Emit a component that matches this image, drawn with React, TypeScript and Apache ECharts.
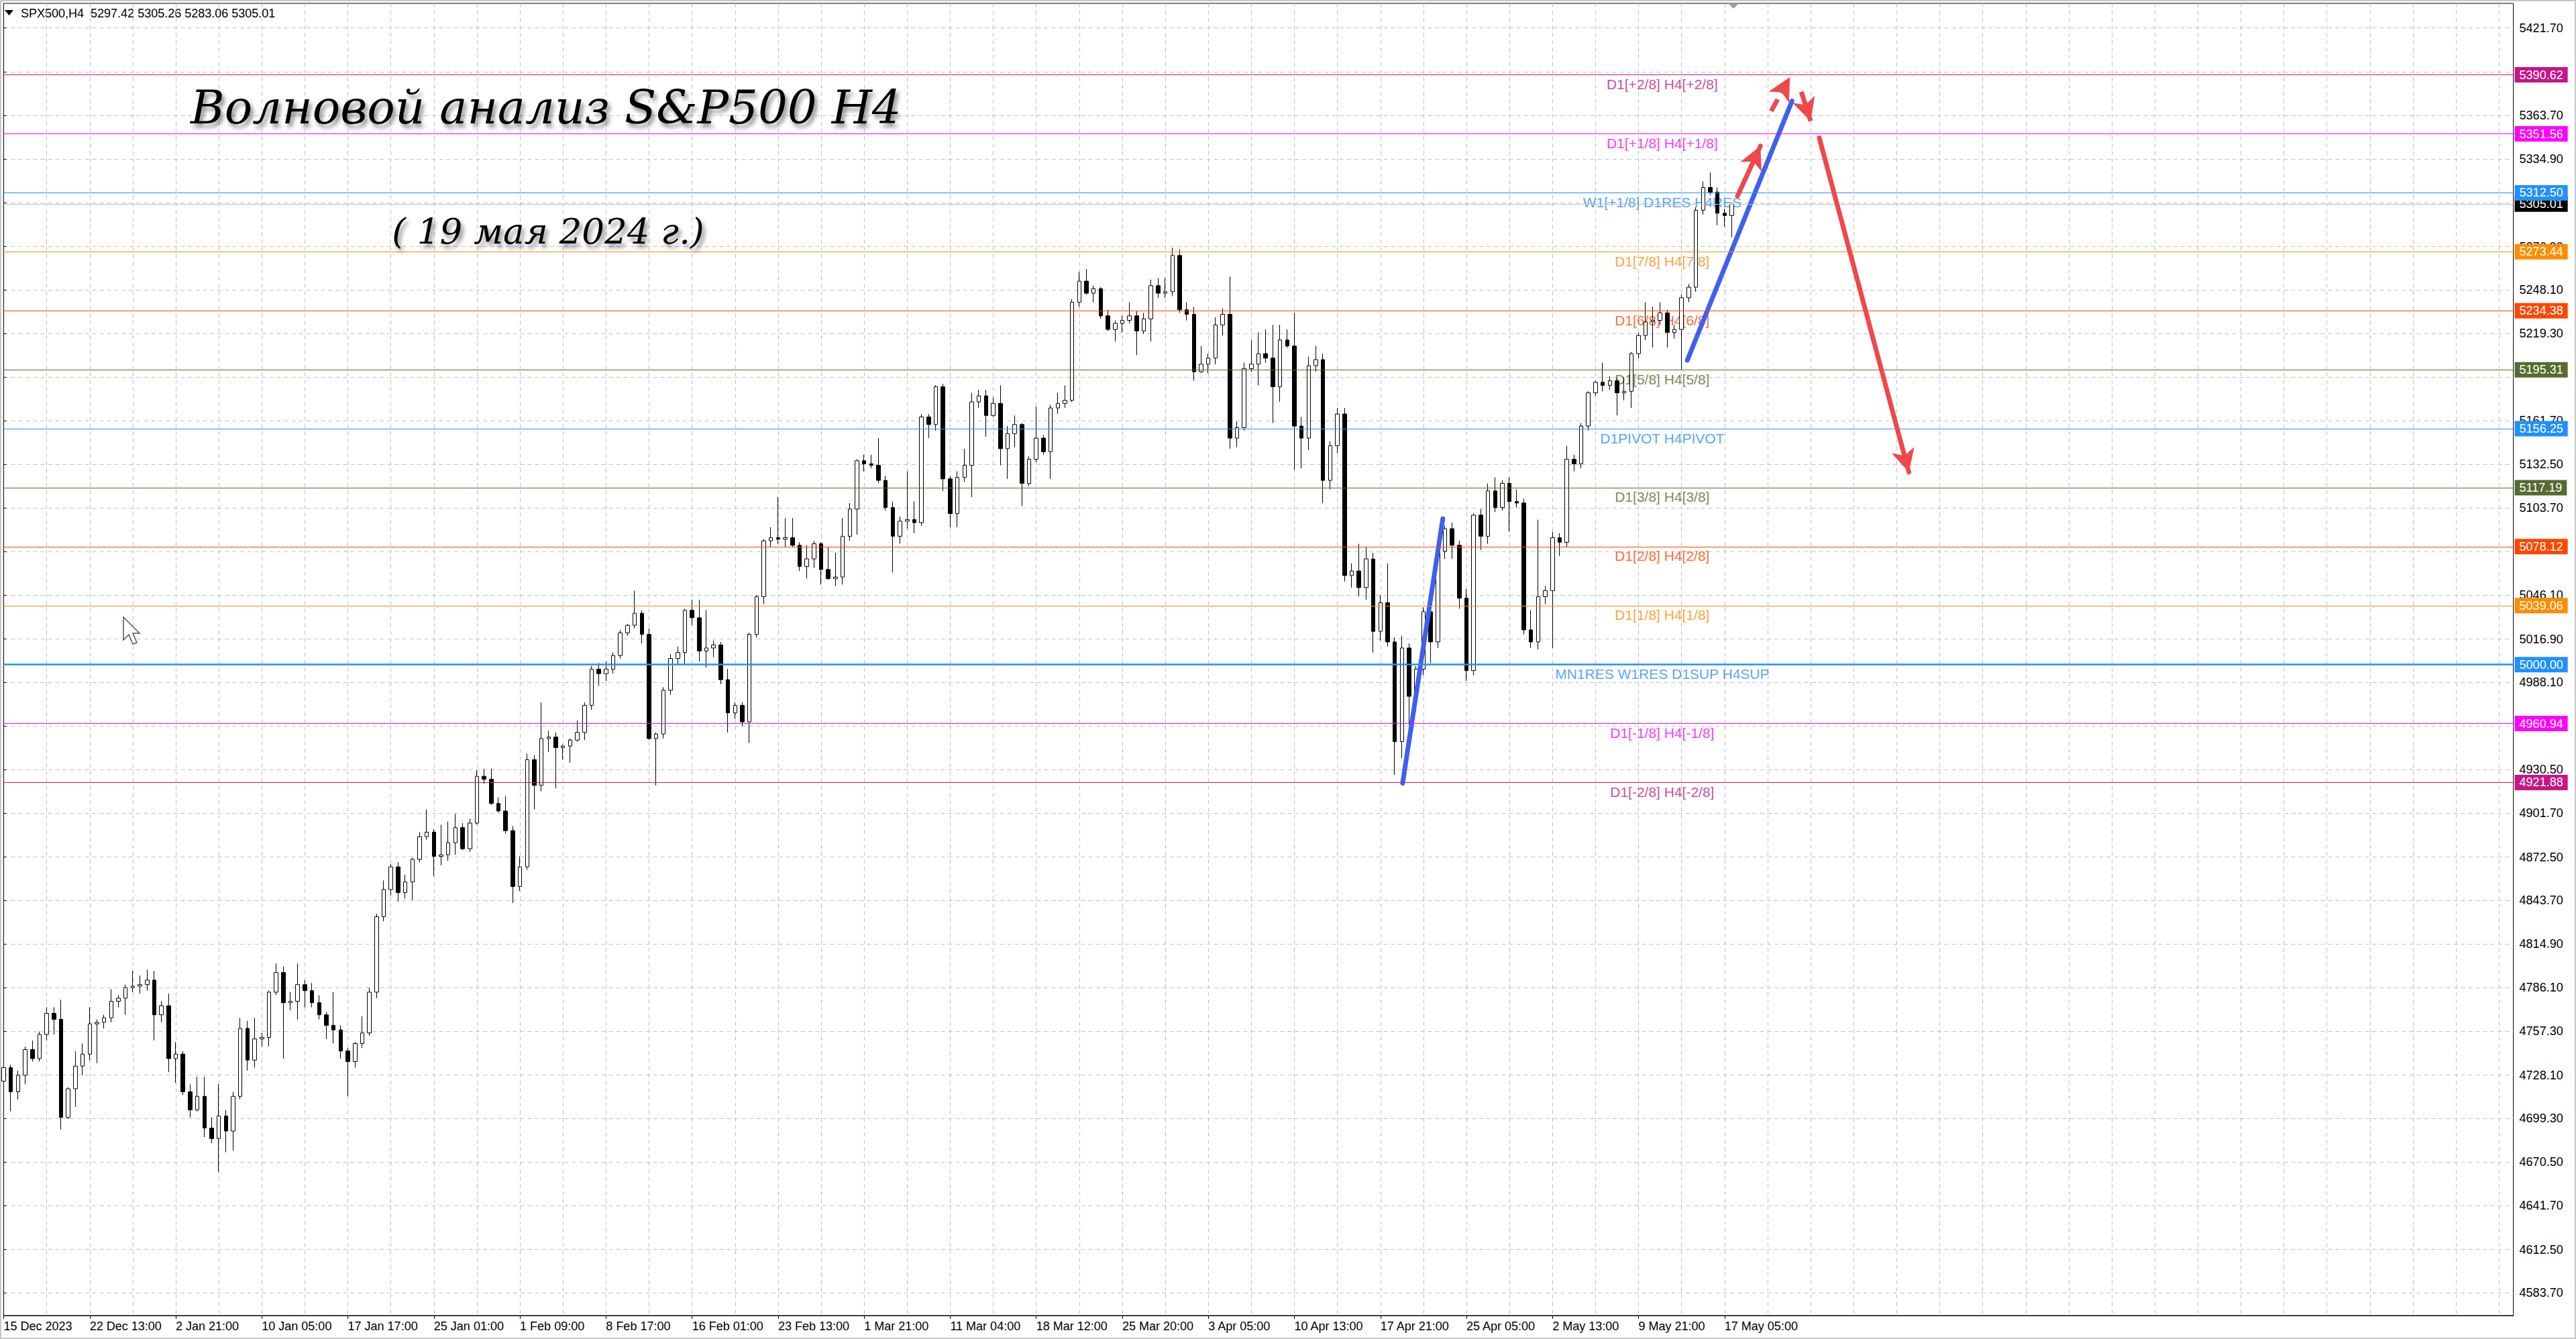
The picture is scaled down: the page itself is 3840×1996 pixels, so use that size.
import React, { useEffect, useRef } from 'react';
import * as echarts from 'echarts';

// time axis: one label every 12 slots, grid runs on past the last bar
const xLabels = ['15 Dec 2023', '22 Dec 13:00', '2 Jan 21:00', '10 Jan 05:00', '17 Jan 17:00', '25 Jan 01:00', '1 Feb 09:00',
  '8 Feb 17:00', '16 Feb 01:00', '23 Feb 13:00', '1 Mar 21:00', '11 Mar 04:00', '18 Mar 12:00', '25 Mar 20:00',
  '3 Apr 05:00', '10 Apr 13:00', '17 Apr 21:00', '25 Apr 05:00', '2 May 13:00', '9 May 21:00', '17 May 05:00'];
const barsPerLabel = 12;
const totalSlots = 351;

// price grid (all ticks) and the tick labels that are not covered by a level box
const yTicks = [5421.7, 5392.5, 5363.7, 5334.9, 5305.7, 5276.9, 5248.1, 5219.3, 5190.5, 5161.7, 5132.5, 5103.7,
  5074.9, 5046.1, 5016.9, 4988.1, 4959.3, 4930.5, 4901.7, 4872.5, 4843.7, 4814.9, 4786.1, 4757.3, 4728.1,
  4699.3, 4670.5, 4641.7, 4612.5, 4583.7];
const yTickLabels = [5421.7, 5363.7, 5334.9, 5276.9, 5248.1, 5219.3, 5161.7, 5132.5, 5103.7,
  5046.1, 5016.9, 4988.1, 4930.5, 4901.7, 4872.5, 4843.7, 4814.9, 4786.1, 4757.3, 4728.1,
  4699.3, 4670.5, 4641.7, 4612.5, 4583.7];

const open = [
  4724, 4733, 4717, 4728, 4745, 4739, 4755, 4769, 4765, 4700,
  4719, 4734, 4742, 4762, 4763, 4766, 4777, 4779, 4786, 4787,
  4788, 4791, 4768, 4774, 4739, 4742, 4717, 4705, 4714, 4693,
  4686, 4701, 4691, 4714, 4759, 4738, 4752, 4753, 4783, 4796,
  4776, 4777, 4788, 4784, 4776, 4768, 4761, 4758, 4744, 4737,
  4749, 4756, 4783, 4833, 4851, 4866, 4849, 4856, 4871, 4886,
  4889, 4873, 4874, 4882, 4892, 4878, 4895, 4926, 4924, 4908,
  4903, 4890, 4853, 4866, 4937, 4920, 4951, 4952, 4945, 4946,
  4950, 4955, 4973, 4997, 4994, 4997, 5006, 5021, 5026, 5034,
  5020, 4951, 4954, 4983, 5004, 5008, 5036, 5031, 5009, 5011,
  5013, 4990, 4968, 4973, 4962, 5020, 5045, 5082, 5084, 5083,
  5084, 5079, 5065, 5070, 5080, 5063, 5057, 5058, 5085, 5103,
  5135, 5133, 5132, 5122, 5104, 5085, 5095, 5096, 5094, 5164,
  5159, 5184, 5123, 5100, 5124, 5132, 5174, 5178, 5165, 5173,
  5143, 5153, 5159, 5120, 5136, 5150, 5141, 5170, 5173, 5175,
  5240, 5254, 5246, 5249, 5231, 5222, 5226, 5228, 5231, 5221,
  5229, 5251, 5246, 5247, 5271, 5235, 5232, 5194, 5199, 5203,
  5225, 5232, 5150, 5157, 5196, 5199, 5206, 5203, 5184, 5215,
  5211, 5158, 5150, 5198, 5202, 5122, 5145, 5166, 5059, 5062,
  5051, 5070, 5022, 5041, 5015, 4949, 5011, 4979, 4997, 5035,
  5015, 5075, 5090, 5079, 5044, 4996, 5099, 5085, 5115, 5104,
  5120, 5108, 5107, 5023, 5015, 5045, 5049, 5084, 5081, 5136,
  5133, 5158, 5180, 5187, 5185, 5188, 5180, 5181, 5206, 5218,
  5227, 5228, 5233, 5220, 5222, 5243, 5250, 5301, 5316, 5313, 5299, 5297.42];
const close = [
  4733, 4717, 4728, 4745, 4739, 4755, 4769, 4765, 4700, 4719,
  4734, 4742, 4762, 4763, 4766, 4777, 4779, 4786, 4787, 4788,
  4791, 4768, 4774, 4739, 4742, 4717, 4705, 4714, 4693, 4686,
  4701, 4691, 4714, 4759, 4738, 4752, 4753, 4783, 4796, 4776,
  4777, 4788, 4784, 4776, 4768, 4761, 4758, 4744, 4737, 4749,
  4756, 4783, 4833, 4851, 4866, 4849, 4856, 4871, 4886, 4889,
  4873, 4874, 4882, 4892, 4878, 4895, 4926, 4924, 4908, 4903,
  4890, 4853, 4866, 4937, 4920, 4951, 4952, 4945, 4946, 4950,
  4955, 4973, 4997, 4994, 4997, 5006, 5021, 5026, 5034, 5020,
  4951, 4954, 4983, 5004, 5008, 5036, 5031, 5009, 5011, 5013,
  4990, 4968, 4973, 4962, 5020, 5045, 5082, 5084, 5083, 5084,
  5079, 5065, 5070, 5080, 5063, 5057, 5058, 5085, 5103, 5135,
  5133, 5132, 5122, 5104, 5085, 5095, 5096, 5094, 5164, 5159,
  5184, 5123, 5100, 5124, 5132, 5174, 5178, 5165, 5173, 5143,
  5153, 5159, 5120, 5136, 5150, 5141, 5170, 5173, 5175, 5240,
  5254, 5246, 5249, 5231, 5222, 5226, 5228, 5231, 5221, 5229,
  5251, 5246, 5247, 5271, 5235, 5232, 5194, 5199, 5203, 5225,
  5232, 5150, 5157, 5196, 5199, 5206, 5203, 5184, 5215, 5211,
  5158, 5150, 5198, 5202, 5122, 5145, 5166, 5059, 5062, 5051,
  5070, 5022, 5041, 5015, 4949, 5011, 4979, 4997, 5035, 5015,
  5075, 5090, 5079, 5044, 4996, 5099, 5085, 5115, 5104, 5120,
  5108, 5107, 5023, 5015, 5045, 5049, 5084, 5081, 5136, 5133,
  5158, 5180, 5187, 5185, 5188, 5180, 5181, 5206, 5218, 5227,
  5228, 5233, 5220, 5222, 5243, 5250, 5301, 5316, 5313, 5299, 5297.42, 5305.01];
const low = [
  4721, 4704, 4712, 4722, 4737, 4737, 4751, 4755, 4692, 4699,
  4707, 4728, 4738, 4736, 4759, 4763, 4773, 4768, 4783, 4782,
  4784, 4751, 4763, 4730, 4723, 4715, 4700, 4704, 4687, 4683,
  4664, 4677, 4678, 4712, 4731, 4733, 4747, 4747, 4781, 4739,
  4771, 4765, 4773, 4773, 4765, 4752, 4749, 4739, 4714, 4733,
  4746, 4754, 4779, 4830, 4847, 4843, 4845, 4844, 4869, 4884,
  4860, 4867, 4870, 4874, 4877, 4876, 4894, 4921, 4907, 4902,
  4888, 4842, 4850, 4864, 4904, 4916, 4942, 4918, 4937, 4935,
  4949, 4950, 4970, 4986, 4989, 4994, 5004, 5019, 5024, 5014,
  4950, 4920, 4951, 4980, 5000, 5000, 5026, 5002, 4998, 5005,
  4987, 4955, 4964, 4959, 4948, 5018, 5040, 5078, 5080, 5078,
  5078, 5062, 5057, 5064, 5053, 5056, 5052, 5053, 5082, 5086,
  5128, 5130, 5120, 5102, 5061, 5080, 5090, 5087, 5092, 5150,
  5155, 5115, 5091, 5091, 5121, 5111, 5170, 5151, 5164, 5132,
  5123, 5144, 5105, 5118, 5134, 5139, 5123, 5166, 5170, 5174,
  5237, 5245, 5240, 5229, 5221, 5214, 5220, 5226, 5205, 5219,
  5214, 5243, 5243, 5244, 5233, 5228, 5188, 5193, 5193, 5199,
  5218, 5143, 5144, 5155, 5194, 5185, 5200, 5160, 5174, 5210,
  5129, 5130, 5142, 5194, 5107, 5116, 5140, 5055, 5051, 5045,
  5043, 5008, 5016, 5012, 4927, 4938, 4960, 4969, 4993, 5001,
  5011, 5070, 5070, 5037, 4989, 4993, 5076, 5080, 5101, 5102,
  5088, 5104, 5020, 5011, 5010, 5040, 5011, 5072, 5078, 5128,
  5130, 5155, 5178, 5181, 5182, 5165, 5175, 5170, 5203, 5215,
  5210, 5225, 5210, 5216, 5195, 5240, 5247, 5298, 5311, 5291, 5290, 5283.06];
const high = [
  4736, 4735, 4731, 4747, 4751, 4757, 4773, 4773, 4778, 4720,
  4744, 4749, 4773, 4765, 4768, 4785, 4781, 4788, 4797, 4794,
  4798, 4797, 4777, 4782, 4750, 4744, 4722, 4727, 4727, 4700,
  4722, 4705, 4717, 4766, 4764, 4766, 4756, 4784, 4802, 4800,
  4783, 4802, 4791, 4789, 4781, 4770, 4783, 4761, 4746, 4750,
  4767, 4786, 4835, 4857, 4868, 4869, 4861, 4872, 4889, 4904,
  4891, 4894, 4896, 4901, 4895, 4898, 4930, 4931, 4931, 4912,
  4913, 4893, 4873, 4941, 4940, 4975, 4956, 4955, 4947, 4951,
  4963, 4975, 4999, 5001, 5002, 5008, 5023, 5027, 5049, 5036,
  5024, 4955, 4985, 5007, 5012, 5037, 5043, 5043, 5036, 5016,
  5015, 4997, 4975, 4975, 5021, 5046, 5083, 5091, 5111, 5097,
  5097, 5081, 5079, 5082, 5081, 5078, 5074, 5097, 5107, 5136,
  5139, 5139, 5150, 5125, 5108, 5098, 5128, 5108, 5166, 5166,
  5185, 5186, 5125, 5128, 5143, 5180, 5182, 5182, 5177, 5185,
  5158, 5165, 5160, 5138, 5171, 5152, 5172, 5180, 5185, 5242,
  5260, 5262, 5251, 5250, 5235, 5228, 5231, 5240, 5234, 5233,
  5255, 5256, 5256, 5276, 5275, 5240, 5237, 5211, 5206, 5230,
  5236, 5257, 5161, 5200, 5215, 5220, 5222, 5225, 5225, 5222,
  5233, 5164, 5204, 5211, 5206, 5148, 5170, 5170, 5067, 5080,
  5078, 5074, 5046, 5067, 5018, 5019, 5014, 4999, 5038, 5040,
  5079, 5092, 5094, 5082, 5050, 5100, 5103, 5120, 5124, 5122,
  5124, 5116, 5110, 5036, 5096, 5052, 5088, 5087, 5145, 5139,
  5160, 5181, 5188, 5200, 5191, 5190, 5190, 5207, 5220, 5240,
  5237, 5240, 5235, 5225, 5245, 5252, 5303, 5320, 5326, 5316, 5302, 5305.26];

// Murrey math levels
const levelValues = [5390.62, 5351.56, 5312.5, 5273.44, 5234.38, 5195.31, 5156.25, 5117.19, 5078.12, 5039.06, 5000, 4960.94, 4921.88];
const levelNames = ['D1[+2/8] H4[+2/8]', 'D1[+1/8] H4[+1/8]', 'W1[+1/8] D1RES H4RES', 'D1[7/8] H4[7/8]', 'D1[6/8] H4[6/8]',
  'D1[5/8] H4[5/8]', 'D1PIVOT H4PIVOT', 'D1[3/8] H4[3/8]', 'D1[2/8] H4[2/8]', 'D1[1/8] H4[1/8]',
  'MN1RES W1RES D1SUP H4SUP', 'D1[-1/8] H4[-1/8]', 'D1[-2/8] H4[-2/8]'];
const levelColors = ['#C71585', '#FF00FF', '#1E90FF', '#FF8C00', '#FF4500', '#556B2F', '#1E90FF', '#556B2F', '#FF4500',
  '#FF8C00', '#1E90FF', '#FF00FF', '#C71585'];
const levelLabelSlot = 231.3;
const lastPrice = 5305.01;
const header = 'SPX500,H4  5297.42 5305.26 5283.06 5305.01';

// wave drawings, [slot, price]
const wave1 = [[195.1, 4921.4], [200.7, 5096.6]];
const wave2 = [[234.8, 5201.6], [249.4, 5373.3]];
const arrowUp = [[241.8, 5310.4], [245.0, 5343.5]];
const arrowUpDashed = [[246.5, 5366.6], [249.1, 5389.1]];
const arrowDownDashed = [[250.7, 5379.4], [252.0, 5360.0]];
const arrowDown = [[253.2, 5349.0], [265.7, 5127.4]];

const FONT = 'Liberation Sans';

const App = () => {
  const chartRef = useRef<HTMLDivElement>(null);

  useEffect(() => {
    const dom = chartRef.current;
    if (!dom) return;
    const chart = echarts.init(dom, null, { renderer: 'svg' });

    const categories = Array.from({ length: totalSlots }, (_, i) => String(i));
    const candles = open.map((o, i) => [o, close[i], low[i], high[i]]);
    const isLabelSlot = (i: number) => i % barsPerLabel === 0 && i / barsPerLabel < xLabels.length;

    const priceLines: any[] = [
      { yAxis: lastPrice, lineStyle: { color: '#C0C0C0', width: 1.2, type: 'solid' }, label: { backgroundColor: '#000' } },
    ];
    levelValues.forEach((v, i) => {
      priceLines.push({
        yAxis: v,
        lineStyle: { color: levelColors[i], width: v === 5000 ? 2.5 : 1.2, type: 'solid' },
        label: { backgroundColor: levelColors[i] },
      });
    });

    const red = '#F0474A';
    const blue = '#3F5FEF';
    const shadow = { textShadowColor: 'rgba(0,0,0,0.45)', textShadowBlur: 6, textShadowOffsetX: 4, textShadowOffsetY: 6 };

    const option = {
      animation: false,
      backgroundColor: '#fff',
      grid: { left: 5.5, right: 93.4, top: 5, bottom: 35, show: true, borderColor: '#000', borderWidth: 1, backgroundColor: 'transparent' },
      xAxis: [
        {
          type: 'category',
          data: categories,
          boundaryGap: false,
          axisLine: { lineStyle: { color: '#000', width: 1 } },
          axisTick: { show: true, length: 5, interval: (i: number) => isLabelSlot(i), lineStyle: { color: '#000' } },
          axisLabel: {
            interval: (i: number) => isLabelSlot(i),
            formatter: (v: string) => { const i = Number(v); return isLabelSlot(i) ? xLabels[i / barsPerLabel] : ''; },
            align: 'left', margin: 7, color: '#000', fontSize: 18, fontFamily: FONT,
          },
          splitLine: { show: true, interval: (i: number) => i % (barsPerLabel / 2) === 0, lineStyle: { color: '#C0C0C0', type: [6, 5], width: 1 } },
        },
        { type: 'value', min: 0, max: totalSlots - 1, show: false },
      ],
      yAxis: {
        type: 'value',
        position: 'right',
        min: 4568.8,
        max: 5438.0,
        axisLine: { show: true, lineStyle: { color: '#000', width: 1 } },
        axisTick: { show: true, length: 4, customValues: yTicks, lineStyle: { color: '#000' } },
        axisLabel: {
          customValues: yTickLabels,
          formatter: (v: number) => v.toFixed(2),
          color: '#000', fontSize: 18, fontFamily: FONT, margin: 9, align: 'left',
        },
        splitLine: { show: true, lineStyle: { color: '#C0C0C0', type: [6, 5], width: 1 } },
      },
      series: [
        {
          name: 'levels',
          type: 'scatter',
          xAxisIndex: 1,
          z: 1,
          silent: true,
          symbolSize: 1,
          itemStyle: { color: 'transparent' },
          data: levelValues.map((v, i) => ({ name: levelNames[i], value: [levelLabelSlot, v], label: { color: levelColors[i] } })),
          label: { show: true, position: 'bottom', distance: 3, formatter: '{b}', fontSize: 21, fontFamily: FONT },
          markLine: {
            silent: true,
            symbol: ['none', 'none'],
            lineStyle: { type: 'solid' },
            label: {
              show: true, position: 'end', distance: 2,
              formatter: (p: any) => Number(p.value).toFixed(2),
              color: '#fff', fontSize: 18, fontFamily: FONT, padding: [3, 7, 2, 7],
            },
            data: priceLines,
          },
        },
        {
          name: 'SPX500',
          type: 'candlestick',
          z: 2,
          data: candles,
          barWidth: 6,
          itemStyle: { color: '#fff', color0: '#000', borderColor: '#000', borderColor0: '#000', borderWidth: 1 },
        },
        {
          name: 'wave1',
          type: 'line',
          xAxisIndex: 1,
          z: 3,
          silent: true,
          symbol: 'none',
          data: wave1,
          lineStyle: { color: blue, width: 7, cap: 'round' },
        },
        {
          name: 'wave2',
          type: 'line',
          xAxisIndex: 1,
          z: 3,
          silent: true,
          symbol: 'none',
          data: wave2,
          lineStyle: { color: blue, width: 7, cap: 'round' },
          markLine: {
            silent: true,
            symbol: ['none', 'arrow'],
            symbolSize: [26, 34],
            label: { show: false },
            lineStyle: { color: red, width: 7, type: 'solid', cap: 'round' },
            data: [
              [{ coord: arrowUp[0] }, { coord: arrowUp[1] }],
              [{ coord: arrowUpDashed[0], lineStyle: { type: [20, 11], cap: 'butt' } }, { coord: arrowUpDashed[1] }],
              [{ coord: arrowDownDashed[0], lineStyle: { type: [20, 11], cap: 'butt' } }, { coord: arrowDownDashed[1] }],
              [{ coord: arrowDown[0] }, { coord: arrowDown[1] }],
            ],
          },
        },
      ],
      graphic: [
        { type: 'rect', shape: { x: 0, y: 0, width: 3840, height: 1996 }, style: { fill: 'none', stroke: '#C8C8C8', lineWidth: 4 }, silent: true },
        { type: 'polygon', shape: { points: [[7, 15], [20, 15], [13.5, 23]] }, style: { fill: '#000' } },
        {
          type: 'text', x: 31, y: 20,
          style: { text: header, font: `18px "${FONT}"`, fill: '#000', align: 'left', verticalAlign: 'middle', textAlign: 'left', textVerticalAlign: 'middle' },
        },
        {
          type: 'text', x: 284, y: 160, z: 10,
          style: {
            text: 'Волновой анализ S&P500 H4', font: 'italic 69px "DejaVu Serif"', fill: '#000',
            align: 'left', verticalAlign: 'middle', textAlign: 'left', textVerticalAlign: 'middle', ...shadow,
          },
        },
        {
          type: 'text', x: 817, y: 344, z: 10,
          style: {
            text: '( 19 мая 2024 г.)', font: 'italic 53px "DejaVu Serif"', fill: '#000',
            align: 'center', verticalAlign: 'middle', textAlign: 'center', textVerticalAlign: 'middle', ...shadow,
          },
        },
        { type: 'polygon', shape: { points: [[2576, 5], [2592, 5], [2584, 13]] }, style: { fill: '#A0A0A0' } },
        {
          type: 'polygon', z: 20,
          shape: { points: [[184, 920], [184, 954], [192, 946], [198, 960], [204, 958], [198, 944], [208, 944]] },
          style: { fill: '#fff', stroke: '#555', lineWidth: 1.5 },
        },
      ],
    };

    chart.setOption(option as any);

    return () => {
      chart.dispose();
    };
  }, []);

  return <div ref={chartRef} style={{ position: 'fixed', left: 0, top: 0, width: '100vw', height: '100vh' }}></div>;
};

export default App;
